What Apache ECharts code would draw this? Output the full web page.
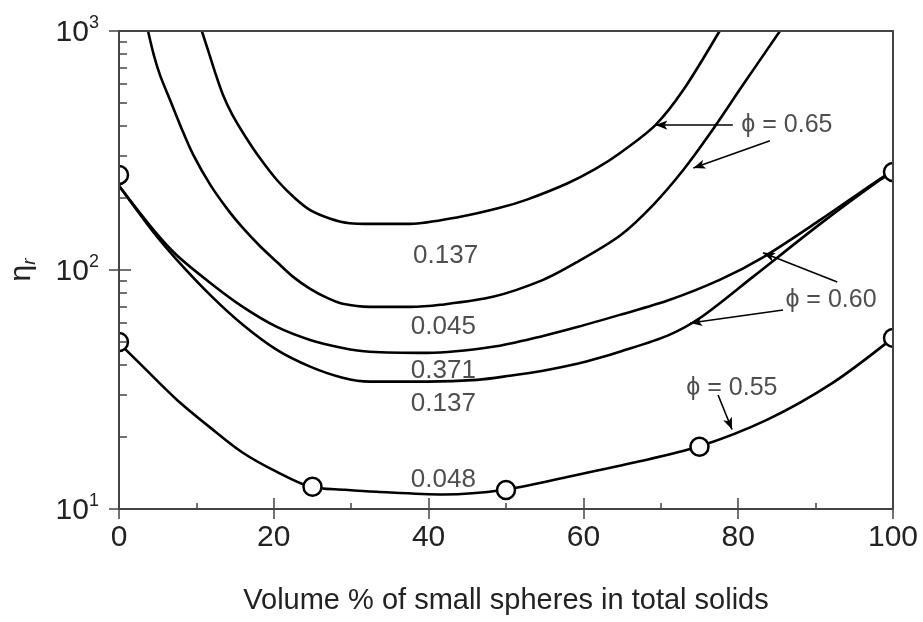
<!DOCTYPE html>
<html>
<head>
<meta charset="UTF-8">
<script src="https://cdn.jsdelivr.net/npm/echarts@6/dist/echarts.min.js"></script>
<style>
  html, body { margin: 0; padding: 0; background: #fff; }
  #main { width: 923px; height: 622px; }
</style>
</head>
<body>
<div id="main"></div>
<script>
// curves, [volume %, eta_r]
var phi065_a = [[10.7,1000],[11.5,832],[12.4,673],[13.4,544],[14.6,449],[16.3,363],[18.2,294],[20.4,238],[22.7,200],[24.7,178],[27.3,164],[29.8,157],[32.4,156],[37.6,156],[44.1,167],[49.2,182],[52.7,197],[57.9,230],[61.5,264],[64.7,308],[69.3,404],[72.9,566],[77.6,1000]];
var phi065_b = [[3.75,1000],[4.5,793],[5.3,654],[6.6,514],[8,397],[9.6,303],[11.8,227],[14.1,178],[16,150],[18.2,126],[20.4,108],[22.5,93.6],[24.7,83.4],[26.9,76.4],[28.9,72.2],[32.4,70.1],[37.6,70.1],[41.5,71.5],[48.3,77.2],[54.8,90.9],[59.2,108],[64.7,139],[69,187],[72.9,262],[76.4,374],[80.6,594],[85.4,1000]];
var phi060_a = [[0,225],[4.4,148],[7.5,115],[11.8,88.3],[16,70.1],[20.4,57.8],[24.7,51],[28.9,47.2],[32.4,45.5],[39.8,45],[48.3,47.7],[54.8,53],[59.2,57.7],[64.7,64.9],[70.8,74.3],[77.6,90.9],[83.2,113],[90.6,162],[98.7,245],[100,257]];
var phi060_b = [[0,225],[4.4,144.5],[7.5,110],[11.8,78.5],[16,59],[20.4,46.3],[24.7,39.4],[28.9,35.4],[32.4,34.1],[39.8,34.1],[46.3,34.7],[50.5,36.1],[54.8,37.9],[59.2,40.5],[62.1,42.9],[64.7,45.5],[70.8,53],[75.1,63.1],[81.9,93.6],[90.6,156],[98.3,238],[100,257]];
var phi055 = [[0,49.5],[3.1,39.4],[7.5,28.6],[11.8,21.9],[16,17.2],[20.4,14.3],[24.7,12.4],[29.2,12.04],[33.3,11.8],[41.9,11.5],[49.6,12],[57.9,13.6],[66.4,15.6],[74.8,18.2],[83.7,23.6],[92.2,33.7],[100,52]];
var points060 = [[0,250],[100,257]];
var points055 = [[0,50],[25,12.4],[50,12],[75,18.2],[100,52]];

// curve labels [x, y, text]
var curveLabels = [[42.2,115,'0.137'],[41.9,57.8,'0.045'],[41.9,37.9,'0.371'],[41.9,27.5,'0.137'],[41.9,13.25,'0.048']];
var phiLabels = [[80.4,404,'\u03d5 = 0.65'],[86.1,75,'\u03d5 = 0.60'],[73.3,32.1,'\u03d5 = 0.55']];
var arrows = [
  [[79.3,404],[69.3,404]],
  [[84.1,347],[74.2,267]],
  [[92.8,89],[83.2,118]],
  [[85.8,68],[73.8,60]],
  [[77.4,30],[79.2,21.5]]
];
var xTicks = [0, 20, 40, 60, 80, 100];
var yMinor = [20,30,40,50,60,70,80,90,200,300,400,500,600,700,800,900];

var font = 'Liberation Sans, Arial, sans-serif';
var axisColor = '#444';

function curve(data) {
  return {
    type: 'line', data: data, showSymbol: false, smooth: 0.3,
    lineStyle: { color: '#000', width: 2.6 }, clip: true, z: 2
  };
}

// open circles, cut by the plot frame like in the original
function renderCircle(params, api) {
  var p = api.coord([api.value(0), api.value(1)]);
  var cs = params.coordSys;
  return {
    type: 'circle',
    shape: { cx: p[0], cy: p[1], r: 9 },
    style: { fill: '#fff', stroke: '#000', lineWidth: 2.5 },
    clipPath: { type: 'rect', shape: { x: cs.x, y: cs.y, width: cs.width, height: cs.height } }
  };
}

var myChart = echarts.init(document.getElementById('main'));
var arrowData = arrows.map(function (a) {
  return [{ coord: a[0] }, { coord: a[1] }];
});

var option = {
  animation: false,
  backgroundColor: '#fff',
  grid: { left: 119, right: 30, top: 31, bottom: 113, containLabel: false, outerBoundsMode: 'none' },
  xAxis: [
    {
      type: 'value', min: 0, max: 100, interval: 20, position: 'bottom', z: 10,
      name: 'Volume % of small spheres in total solids',
      nameLocation: 'middle', nameGap: 77,
      nameTextStyle: { fontFamily: font, fontSize: 29, color: '#222' },
      axisLine: { lineStyle: { color: axisColor, width: 2 } },
      axisTick: { inside: true, length: 11, lineStyle: { color: axisColor, width: 1.5 } },
      minorTick: { show: true, splitNumber: 2, length: 6, lineStyle: { color: axisColor, width: 1.5 } },
      axisLabel: { fontFamily: font, fontSize: 30, color: '#222', margin: 14,
        customValues: xTicks },
      splitLine: { show: false }
    },
    {
      type: 'value', min: 0, max: 100, interval: 20, position: 'bottom', z: 10,
      axisLine: { show: false },
      axisTick: { inside: false, length: 10, lineStyle: { color: axisColor, width: 1.5 } },
      axisLabel: { show: false }, splitLine: { show: false }
    },
    {
      type: 'value', min: 0, max: 100, position: 'top', z: 10,
      axisLine: { lineStyle: { color: axisColor, width: 2 } },
      axisTick: { show: false }, axisLabel: { show: false }, splitLine: { show: false }
    }
  ],
  yAxis: [
    {
      type: 'log', logBase: 10, min: 10, max: 1000, position: 'left', z: 10,
      name: '{a|\u03b7}{b|r}', nameLocation: 'middle', nameGap: 80, nameRotate: 90,
      nameTextStyle: {
        rich: {
          a: { fontFamily: font, fontSize: 30, color: '#222', lineHeight: 34, verticalAlign: 'middle' },
          b: { fontFamily: font, fontSize: 19, color: '#222', fontStyle: 'italic', lineHeight: 34, verticalAlign: 'bottom', padding: [14, 0, 0, 0] }
        }
      },
      axisLine: { lineStyle: { color: axisColor, width: 2 } },
      axisTick: { inside: true, length: 12, lineStyle: { color: axisColor, width: 1.5 } },
      axisLabel: {
        margin: 20,
        formatter: function (v) {
          return '{b|10}{s|' + Math.round(Math.log10(v)) + '}';
        },
        rich: {
          b: { fontFamily: font, fontSize: 30, color: '#222', lineHeight: 34, verticalAlign: 'bottom' },
          s: { fontFamily: font, fontSize: 18, color: '#222', lineHeight: 34, verticalAlign: 'top' }
        }
      },
      splitLine: { show: false }
    },
    {
      type: 'log', logBase: 10, min: 10, max: 1000, position: 'left', z: 10,
      axisLine: { show: false },
      axisTick: { inside: true, length: 8, customValues: yMinor, lineStyle: { color: axisColor, width: 1.5 } },
      axisLabel: { show: false }, splitLine: { show: false }
    },
    {
      type: 'log', logBase: 10, min: 10, max: 1000, position: 'left', z: 10,
      axisLine: { show: false },
      axisTick: { inside: false, length: 10, lineStyle: { color: axisColor, width: 1.5 } },
      axisLabel: { show: false }, splitLine: { show: false }
    },
    {
      type: 'log', logBase: 10, min: 10, max: 1000, position: 'right', z: 10,
      axisLine: { lineStyle: { color: axisColor, width: 2 } },
      axisTick: { show: false }, axisLabel: { show: false }, splitLine: { show: false }
    }
  ],
  series: [
    curve(phi065_a),
    curve(phi065_b),
    curve(phi060_a),
    curve(phi060_b),
    curve(phi055),
    {
      type: 'custom', data: points060.concat(points055), renderItem: renderCircle,
      encode: { x: 0, y: 1 }, z: 4, silent: true
    },
    {
      type: 'scatter', data: curveLabels, symbolSize: 0, z: 6,
      label: { show: true, position: 'inside', fontFamily: font, fontSize: 26, color: '#222',
        formatter: function (p) { return p.value[2]; } }
    },
    {
      type: 'scatter', data: phiLabels, symbolSize: 0, z: 6,
      label: { show: true, position: 'inside', align: 'left', fontFamily: font, fontSize: 25, color: '#222',
        formatter: function (p) { return p.value[2]; } },
      markLine: {
        silent: true, symbol: ['none', 'arrow'], symbolSize: [7, 12],
        label: { show: false },
        lineStyle: { color: '#000', width: 1.6, type: 'solid' },
        data: arrowData
      }
    }
  ]
};
myChart.setOption(option);
</script>
</body>
</html>
